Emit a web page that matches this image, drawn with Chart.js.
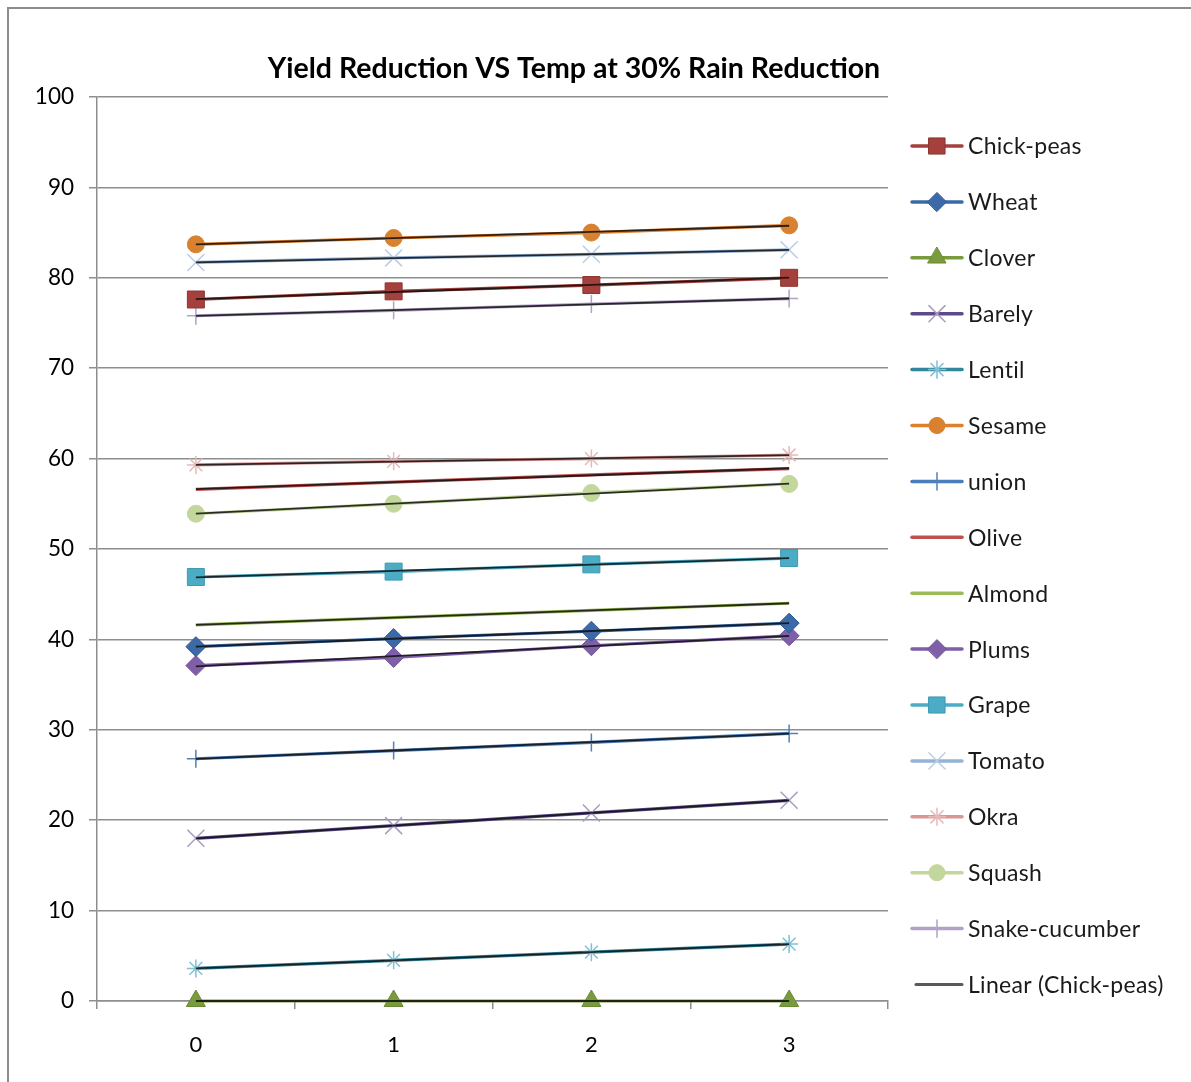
<!DOCTYPE html>
<html>
<head>
<meta charset="utf-8">
<title>Yield Reduction VS Temp at 30% Rain Reduction</title>
<script src="https://cdn.jsdelivr.net/npm/chart.js@4/dist/chart.umd.min.js"></script>
<style>
  html, body { margin: 0; padding: 0; background: #fff; overflow: hidden; }
  #frame { position: absolute; left: 7px; top: 7px; width: 1210px; height: 1110px;
           border-left: 2px solid #8c8c8c; border-top: 2px solid #8c8c8c; }
  #wrap { position: absolute; left: 0; top: 0; width: 1191px; height: 1082px; }
</style>
</head>
<body>
<div id="frame"></div>
<div id="wrap"><canvas id="chart" width="1191" height="1082"></canvas></div>
<script>
// Temperature increase steps (x categories)
const temps = ['0', '1', '2', '3'];

// Yield reduction (%) per crop at each temperature step
const chickPeas     = [77.6, 78.5, 79.2, 80.0];
const wheat         = [39.2, 40.1, 40.9, 41.8];
const clover        = [0, 0, 0, 0];
const barely        = [18.0, 19.4, 20.8, 22.2];
const lentil        = [3.6, 4.5, 5.4, 6.3];
const sesame        = [83.7, 84.4, 85.0, 85.8];
const union         = [26.8, 27.7, 28.6, 29.6];
const olive         = [56.6, 57.4, 58.2, 58.9];
const almond        = [41.6, 42.4, 43.2, 44.0];
const plums         = [37.1, 38.0, 39.3, 40.4];
const grape         = [46.9, 47.5, 48.3, 49.0];
const tomato        = [81.7, 82.2, 82.6, 83.1];
const okra          = [59.3, 59.7, 60.0, 60.4];
const squash        = [53.9, 55.0, 56.2, 57.2];
const snakeCucumber = [75.8, 76.4, 77.1, 77.7];

// Y axis tick values
const yTicks = [0, 10, 20, 30, 40, 50, 60, 70, 80, 90, 100];

const FONT = 'Lato, "Open Sans", sans-serif';

// series: label, values, line colour, marker style, marker radius, marker fill, marker edge, edge width
const series = [
  ['Chick-peas',     chickPeas,     '#A5403D', 'rect',     12,  '#A5403D', '#8a3532', 1],
  ['Wheat',          wheat,         '#3C6AA8', 'rectRot',  10,  '#3C6AA8', '#2f5a92', 1],
  ['Clover',         clover,        '#7A9A3E', 'triangle', 11,  '#7A9A3E', '#6a8a33', 1],
  ['Barely',         barely,        '#5E4A8B', 'crossRot', 12,  '#A99BC4', '#A99BC4', 1.5],
  ['Lentil',         lentil,        '#31859C', 'star',     9,   '#7FC0D5', '#7FC0D5', 1.5],
  ['Sesame',         sesame,        '#E0802F', 'circle',   8.5, '#D8822F', '#D8822F', 1],
  ['union',          union,         '#4A7EBB', 'cross',    9,   '#4F81BD', '#4F81BD', 1.5],
  ['Olive',          olive,         '#C0504D', false,      0,   '#C0504D', '#C0504D', 0],
  ['Almond',         almond,        '#9BBB59', false,      0,   '#9BBB59', '#9BBB59', 0],
  ['Plums',          plums,         '#7F5FA8', 'rectRot',  10,  '#7F5FA8', '#6f5296', 1],
  ['Grape',          grape,         '#4BACC6', 'rect',     12,  '#4BACC6', '#3f9ab2', 1],
  ['Tomato',         tomato,        '#95B3D7', 'crossRot', 12,  '#B9CDE5', '#B9CDE5', 1.5],
  ['Okra',           okra,          '#D99694', 'star',     9,   '#E6B9B8', '#E6B9B8', 1.5],
  ['Squash',         squash,        '#C3D69B', 'circle',   8.5, '#C3D69B', '#C3D69B', 1],
  ['Snake-cucumber', snakeCucumber, '#B3A2C7', 'cross',    9,   '#B3A2C7', '#B3A2C7', 1.5]
];

// least-squares linear trend evaluated at each category
function linearTrend(vals) {
  const n = vals.length;
  const mx = (n - 1) / 2;
  const my = vals.reduce((a, b) => a + b, 0) / n;
  let sxy = 0, sxx = 0;
  vals.forEach((v, i) => { sxy += (i - mx) * (v - my); sxx += (i - mx) * (i - mx); });
  const slope = sxy / sxx;
  return vals.map((_, i) => my + slope * (i - mx));
}

const datasets = [];
series.forEach(([label, data, color, ps, r, fill, edge, bw]) => {
  datasets.push({
    label, data,
    borderColor: color, backgroundColor: color, borderWidth: 3.2,
    pointStyle: ps, pointRadius: r, pointHoverRadius: r,
    pointBackgroundColor: fill, pointBorderColor: edge, pointBorderWidth: bw,
    tension: 0, order: 2, clip: false, isTrend: false
  });
});
series.forEach(([label, data]) => {
  datasets.push({
    label: 'Linear (' + label + ')', data: linearTrend(data),
    borderColor: 'rgba(15,15,15,0.85)', borderWidth: 1.8,
    pointRadius: 0, pointHoverRadius: 0, tension: 0, order: 1, clip: false, isTrend: true
  });
});

// right-hand legend: line sample with its marker, then the label
const sideLegend = {
  id: 'sideLegend',
  afterDraw(chart) {
    const ctx = chart.ctx;
    const items = chart.data.datasets.filter(d => !d.isTrend);
    const trend = chart.data.datasets.find(d => d.label === 'Linear (Chick-peas)');
    const all = items.concat([trend]);
    const x0 = 912, x1 = 962, textX = 968, top = 146, step = 55.9;
    ctx.save();
    all.forEach((d, i) => {
      const y = top + i * step;
      ctx.beginPath();
      ctx.lineCap = 'round';
      ctx.strokeStyle = d.isTrend ? '#595959' : d.borderColor;
      ctx.lineWidth = d.isTrend ? 3 : 3.5;
      ctx.moveTo(d.isTrend ? x0 + 4 : x0, y);
      ctx.lineTo(x1, y);
      ctx.stroke();
      if (!d.isTrend && d.pointStyle) {
        ctx.fillStyle = d.pointBackgroundColor;
        ctx.strokeStyle = d.pointBorderColor;
        ctx.lineWidth = d.pointBorderWidth;
        Chart.helpers.drawPoint(ctx, {
          pointStyle: d.pointStyle, radius: d.pointRadius * 0.95,
          rotation: 0, borderWidth: d.pointBorderWidth
        }, (x0 + x1) / 2, y);
      }
      ctx.fillStyle = '#1a1a1a';
      ctx.font = '23px ' + FONT;
      ctx.letterSpacing = '0.3px';
      ctx.textAlign = 'left';
      ctx.textBaseline = 'middle';
      ctx.fillText(d.label, textX, y + 1);
    });
    ctx.restore();
  }
};

// chart title
const topTitle = {
  id: 'topTitle',
  afterDraw(chart) {
    const ctx = chart.ctx;
    ctx.save();
    ctx.fillStyle = '#000';
    ctx.font = 'bold 28.5px ' + FONT;
    ctx.textAlign = 'center';
    ctx.textBaseline = 'middle';
    ctx.fillText('Yield Reduction VS Temp at 30% Rain Reduction', 574, 69);
    ctx.restore();
  }
};

new Chart(document.getElementById('chart'), {
  type: 'line',
  data: { labels: temps, datasets },
  options: {
    responsive: false,
    animation: false,
    events: [],
    layout: { padding: { top: 97, right: 303, left: 0, bottom: 0 } },
    plugins: { legend: { display: false }, title: { display: false }, tooltip: { enabled: false } },
    scales: {
      x: {
        type: 'category',
        offset: true,
        grid: { offset: true, drawOnChartArea: false, drawTicks: true, tickLength: 8,
                color: '#8e8e8e', lineWidth: 1.5 },
        border: { color: '#8e8e8e', width: 1.5 },
        ticks: { color: '#000', font: { family: FONT, size: 22 }, padding: 23 },
        afterFit(scale) { scale.height = 81; }
      },
      y: {
        min: 0, max: 100,
        afterBuildTicks(scale) { scale.ticks = yTicks.map(v => ({ value: v })); },
        grid: { color: '#8e8e8e', lineWidth: 1.5, tickLength: 8 },
        border: { color: '#8e8e8e', width: 1.5 },
        ticks: { color: '#000', font: { family: FONT, size: 22.5 }, padding: 15 },
        afterFit(scale) { scale.width = 97; }
      }
    }
  },
  plugins: [sideLegend, topTitle]
});
</script>
</body>
</html>
